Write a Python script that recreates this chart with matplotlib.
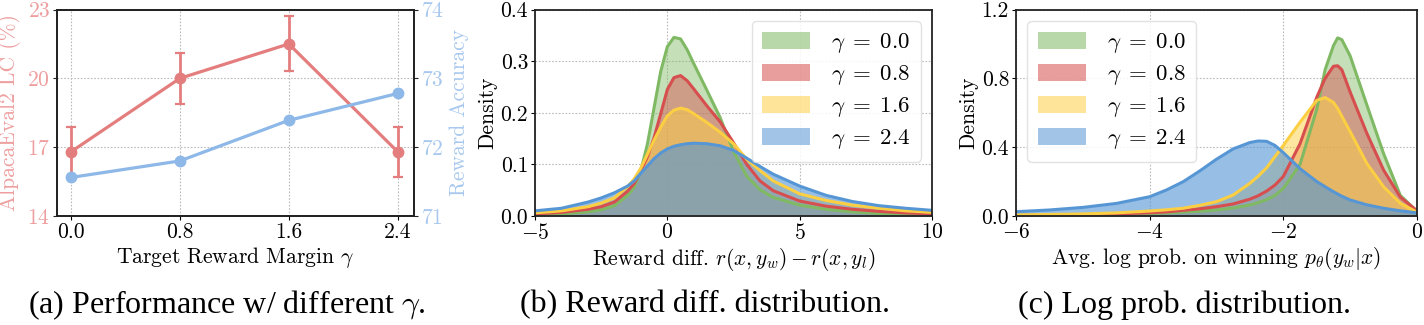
import matplotlib
matplotlib.use("Agg")
import matplotlib.pyplot as plt
from matplotlib.patches import Patch

plt.rcParams['font.family'] = ['cmr10', 'DejaVu Serif']
plt.rcParams['mathtext.fontset'] = 'cm'
plt.rcParams['axes.formatter.use_mathtext'] = True
plt.rcParams['axes.unicode_minus'] = True

# ---------------- data ----------------
# Panel (a)
gammas = [0.0, 0.8, 1.6, 2.4]
gamma_ticks = ["0.0", "0.8", "1.6", "2.4"]
alpaca_lc = [16.8, 20.0, 21.5, 16.8]
alpaca_err = [1.1, 1.1, 1.2, 1.1]
reward_acc = [71.56, 71.80, 72.39, 72.78]

# Panel (b): reward difference densities
series_labels = [r"$\gamma\;=\;0.0$", r"$\gamma\;=\;0.8$", r"$\gamma\;=\;1.6$", r"$\gamma\;=\;2.4$"]
rd_x = [-5, -4, -3, -2.5, -2, -1.5, -1.25, -1, -0.75, -0.5, -0.25, 0, 0.25, 0.5,
        0.75, 1, 1.5, 2, 2.5, 3, 3.5, 4, 5, 6, 7, 8, 9, 10]
rd_g00 = [0.002, 0.004, 0.008, 0.012, 0.02, 0.04, 0.056, 0.088, 0.14, 0.21, 0.28, 0.328,
          0.346, 0.343, 0.322, 0.295, 0.243, 0.19, 0.125, 0.077, 0.051, 0.036, 0.021, 0.013,
          0.008, 0.005, 0.003, 0.002]
rd_g08 = [0.004, 0.007, 0.013, 0.018, 0.027, 0.048, 0.063, 0.088, 0.115, 0.152, 0.198, 0.245,
          0.268, 0.272, 0.262, 0.246, 0.213, 0.182, 0.142, 0.1, 0.068, 0.049, 0.029, 0.019,
          0.013, 0.009, 0.006, 0.004]
rd_g16 = [0.006, 0.01, 0.018, 0.025, 0.035, 0.057, 0.072, 0.093, 0.12, 0.147, 0.172, 0.194,
          0.205, 0.209, 0.206, 0.198, 0.181, 0.162, 0.14, 0.11, 0.088, 0.068, 0.043, 0.03,
          0.021, 0.015, 0.01, 0.007]
rd_g24 = [0.01, 0.015, 0.027, 0.035, 0.045, 0.058, 0.068, 0.083, 0.097, 0.111, 0.122, 0.13,
          0.135, 0.138, 0.14, 0.141, 0.14, 0.136, 0.127, 0.112, 0.096, 0.081, 0.058, 0.04,
          0.028, 0.02, 0.015, 0.011]

# Panel (c): log prob densities
lp_x = [-6, -5.5, -5, -4.5, -4, -3.75, -3.5, -3.25, -3, -2.75, -2.5, -2.375, -2.25, -2.125,
        -2, -1.75, -1.5, -1.375, -1.25, -1.1875, -1.125, -1, -0.75, -0.5, -0.25, 0]
lp_g00 = [0.003, 0.005, 0.007, 0.01, 0.015, 0.018, 0.023, 0.028, 0.035, 0.047, 0.064, 0.078,
          0.095, 0.12, 0.16, 0.3, 0.62, 0.85, 0.99, 1.035, 1.025, 0.93, 0.645, 0.363, 0.12,
          0.027]
lp_g08 = [0.003, 0.005, 0.008, 0.012, 0.019, 0.024, 0.033, 0.042, 0.054, 0.07, 0.098, 0.118,
          0.145, 0.18, 0.23, 0.42, 0.69, 0.8, 0.87, 0.873, 0.85, 0.72, 0.48, 0.267, 0.11, 0.03]
lp_g16 = [0.006, 0.009, 0.012, 0.018, 0.029, 0.036, 0.045, 0.062, 0.083, 0.122, 0.19, 0.232,
          0.28, 0.345, 0.41, 0.545, 0.672, 0.688, 0.66, 0.625, 0.58, 0.49, 0.305, 0.17, 0.074,
          0.022]
lp_g24 = [0.025, 0.035, 0.05, 0.073, 0.112, 0.151, 0.199, 0.262, 0.33, 0.39, 0.427, 0.436,
          0.434, 0.41, 0.368, 0.275, 0.2, 0.17, 0.141, 0.128, 0.115, 0.093, 0.065, 0.045,
          0.03, 0.018]

captions = [r"(a) Performance w/ different $\gamma$.",
            "(b) Reward diff. distribution.",
            "(c) Log prob. distribution."]

# ---------------- style ----------------
RED_A = '#E47E7E'
BLUE_A = '#8DB8E8'
RED_TXT = '#EE9E9E'
BLUE_TXT = '#A8C8EE'
dist_colors = ['#80B964', '#D74E4E', '#FCCF43', '#5796D5']
fill_alphas = [0.45, 0.45, 0.5, 0.62]
SPINE = '#222222'
FS = 15.5

W, H = 1424, 325
fig = plt.figure(figsize=(W / 100, H / 100), dpi=100)

def ax_rect(l, r, t, b):
    return [l / W, 1 - b / H, (r - l) / W, (b - t) / H]

def style_grid(ax):
    ax.grid(True, linestyle=(0, (1.5, 1.5)), color='#BBBBBB', linewidth=0.8)
    ax.set_axisbelow(True)
    for s in ax.spines.values():
        s.set_color(SPINE)
        s.set_linewidth(1.3)

# ---------------- Panel (a) ----------------
axa = fig.add_axes(ax_rect(57, 414, 9.5, 216))
style_grid(axa)
axa.errorbar(gammas, alpaca_lc, yerr=alpaca_err, color=RED_A, lw=2.3, marker='o', ms=7.5,
             capsize=3.5, elinewidth=2.0, capthick=1.6, zorder=3)
axa.set_ylim(14, 23)
axa.set_yticks([14, 17, 20, 23])
axa.set_xlim(-0.103, 2.52)
axa.set_xticks(gammas)
axa.set_xticklabels(gamma_ticks)
axa.tick_params(axis='y', colors=RED_TXT, labelsize=FS, length=3, pad=2)
axa.tick_params(axis='y', color=SPINE)
axa.tick_params(axis='x', labelsize=FS, length=3, pad=2)
axa.set_ylabel("AlpacaEval2 LC (%)", color=RED_TXT, fontsize=FS, labelpad=4)
axa.set_xlabel(r"Target Reward Margin $\gamma$", fontsize=FS, labelpad=2)

axa2 = axa.twinx()
axa2.plot(gammas, reward_acc, color=BLUE_A, lw=2.3, marker='o', ms=7.5, zorder=3)
axa2.set_ylim(71, 74)
axa2.set_yticks([71, 72, 73, 74])
axa2.tick_params(axis='y', colors=BLUE_TXT, labelsize=FS, length=3, pad=2)
axa2.tick_params(axis='y', color=SPINE)
axa2.set_ylabel("Reward Accuracy", color=BLUE_TXT, fontsize=FS, labelpad=4)
for s in axa2.spines.values():
    s.set_color(SPINE)
    s.set_linewidth(1.3)

# ---------------- distribution panels ----------------
def dist_panel(rect, xs, series, xlim, xticks, ylim, yticks, xlabel, loc):
    ax = fig.add_axes(rect)
    style_grid(ax)
    for ys, c, a in zip(series, dist_colors, fill_alphas):
        ax.fill_between(xs, 0, ys, color=c, alpha=a, linewidth=0)
    for ys, c in zip(series, dist_colors):
        ax.plot(xs, ys, color=c, lw=2.2, solid_capstyle='round', solid_joinstyle='round')
    ax.set_xlim(*xlim)
    ax.set_ylim(*ylim)
    ax.set_xticks(xticks)
    ax.set_yticks(yticks)
    ax.tick_params(labelsize=FS, length=3, pad=2)
    ax.set_xlabel(xlabel, fontsize=FS, labelpad=2)
    ax.set_ylabel("Density", fontsize=FS, labelpad=2)
    handles = [Patch(facecolor=c, alpha=0.55, edgecolor='none') for c in dist_colors]
    ax.legend(handles, series_labels, loc=loc, fontsize=FS + 1, frameon=True,
              fancybox=True, framealpha=0.85, edgecolor='#DDDDDD',
              handlelength=2.1, handleheight=0.75, labelspacing=0.35,
              handletextpad=0.9, borderpad=0.45)
    return ax

axb = dist_panel(ax_rect(535, 932, 9.5, 216), rd_x, [rd_g00, rd_g08, rd_g16, rd_g24],
                 (-5, 10), [-5, 0, 5, 10], (0, 0.4), [0.0, 0.1, 0.2, 0.3, 0.4],
                 r"Reward diff. $r(x, y_w) - r(x, y_l)$", 'upper right')
axb.set_yticklabels(["0.0", "0.1", "0.2", "0.3", "0.4"])

axc = dist_panel(ax_rect(1016, 1417, 9.5, 216), lp_x, [lp_g00, lp_g08, lp_g16, lp_g24],
                 (-6, 0), [-6, -4, -2, 0], (0, 1.2), [0.0, 0.4, 0.8, 1.2],
                 r"Avg. log prob. on winning $p_\theta(y_w|x)$", 'upper left')
axc.set_yticklabels(["0.0", "0.4", "0.8", "1.2"])

# ---------------- captions ----------------
for cx, txt in zip([227, 705, 1184], captions):
    fig.text(cx / W, 1 - 305 / H, txt, ha='center', va='center',
             fontsize=23, family=['Liberation Serif', 'DejaVu Serif'])

fig.savefig("out.png", dpi=100)
